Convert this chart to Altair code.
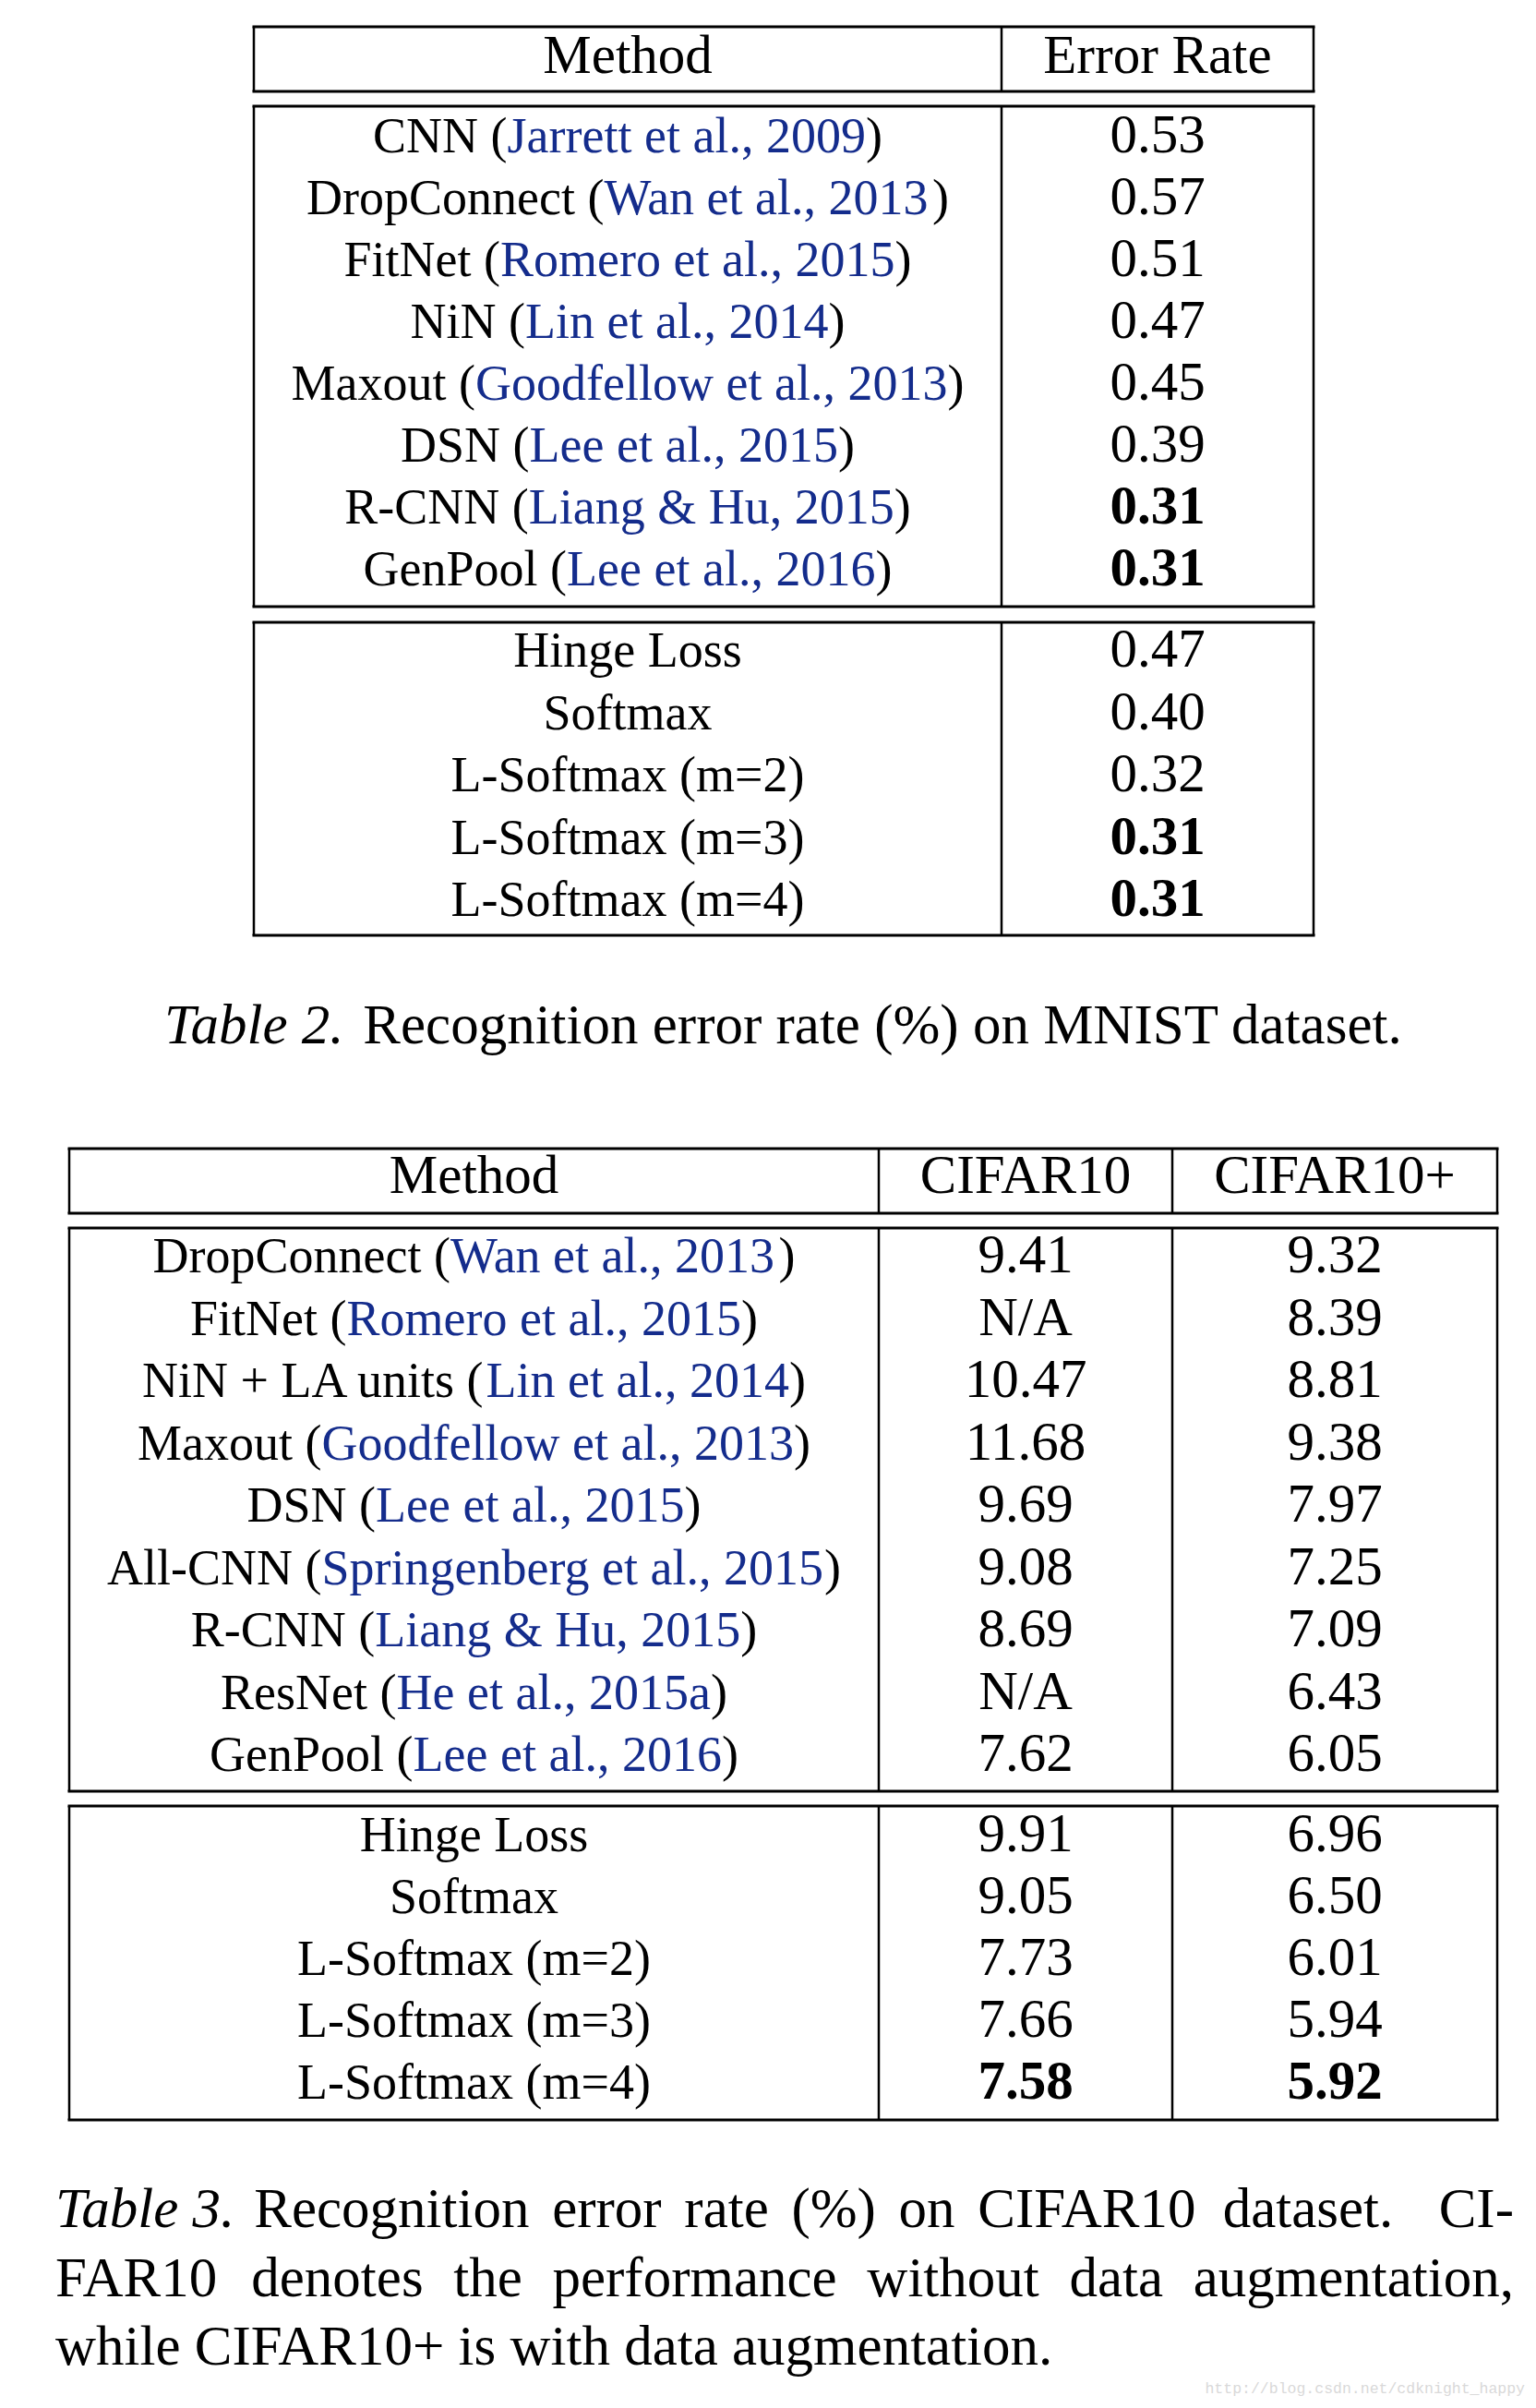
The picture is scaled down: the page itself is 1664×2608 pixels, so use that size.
import altair as alt
import pandas as pd

# ------------------------------------------------------------------ data
mnist_methods = ["CNN", "DropConnect", "FitNet", "NiN", "Maxout", "DSN", "R-CNN", "GenPool"]
mnist_cites = ["Jarrett et al., 2009", "Wan et al., 2013", "Romero et al., 2015", "Lin et al., 2014",
               "Goodfellow et al., 2013", "Lee et al., 2015", "Liang & Hu, 2015", "Lee et al., 2016"]
mnist_errors = ["0.53", "0.57", "0.51", "0.47", "0.45", "0.39", "0.31", "0.31"]
mnist_bold = [False, False, False, False, False, False, True, True]

mnist_ours = ["Hinge Loss", "Softmax", "L-Softmax (m=2)", "L-Softmax (m=3)", "L-Softmax (m=4)"]
mnist_ours_errors = ["0.47", "0.40", "0.32", "0.31", "0.31"]
mnist_ours_bold = [False, False, False, True, True]

cifar_methods = ["DropConnect", "FitNet", "NiN + LA units", "Maxout", "DSN", "All-CNN", "R-CNN", "ResNet", "GenPool"]
cifar_cites = ["Wan et al., 2013", "Romero et al., 2015", "Lin et al., 2014", "Goodfellow et al., 2013",
               "Lee et al., 2015", "Springenberg et al., 2015", "Liang & Hu, 2015", "He et al., 2015a", "Lee et al., 2016"]
cifar10 = ["9.41", "N/A", "10.47", "11.68", "9.69", "9.08", "8.69", "N/A", "7.62"]
cifar10_plus = ["9.32", "8.39", "8.81", "9.38", "7.97", "7.25", "7.09", "6.43", "6.05"]

cifar_ours = ["Hinge Loss", "Softmax", "L-Softmax (m=2)", "L-Softmax (m=3)", "L-Softmax (m=4)"]
cifar_ours_10 = ["9.91", "9.05", "7.73", "7.66", "7.58"]
cifar_ours_10p = ["6.96", "6.50", "6.01", "5.94", "5.92"]
cifar_ours_bold = [False, False, False, False, True]

headers_t2 = ["Method", "Error Rate"]
headers_t3 = ["Method", "CIFAR10", "CIFAR10+"]

caption2_label = "Table 2."
caption2_text = "Recognition error rate (%) on MNIST dataset."
caption3_label = "Table 3."
caption3_line1 = ["Recognition", "error", "rate", "(%)", "on", "CIFAR10", "dataset.", "CI-"]
caption3_line2 = ["FAR10", "denotes", "the", "performance", "without", "data", "augmentation,"]
caption3_line3 = "while CIFAR10+ is with data augmentation."
watermark = "http://blog.csdn.net/cdknight_happy"

# ------------------------------------------------------------------ layout / style
W, H = 1648, 2592
FONT = "Liberation Serif"
TFS = 54      # table text font size (method names / citations)
NFS = 59      # numbers and headers
CFS = 61      # caption font size
BLUE = "#142c8c"

ROMAN_W = {' ': 250, '(': 333, ')': 333, '%': 833, '+': 564, ',': 250, '-': 333, '.': 250, '/': 278,
           '=': 564, '&': 778,
           'A': 722, 'B': 667, 'C': 667, 'D': 722, 'E': 611, 'F': 556, 'G': 722, 'H': 722, 'I': 333,
           'J': 389, 'K': 722, 'L': 611, 'M': 889, 'N': 722, 'O': 722, 'P': 556, 'Q': 722, 'R': 667,
           'S': 556, 'T': 611, 'U': 722, 'V': 722, 'W': 944, 'X': 722, 'Y': 722, 'Z': 611,
           'a': 444, 'b': 500, 'c': 444, 'd': 500, 'e': 444, 'f': 333, 'g': 500, 'h': 500, 'i': 278,
           'j': 278, 'k': 500, 'l': 278, 'm': 778, 'n': 500, 'o': 500, 'p': 500, 'q': 500, 'r': 333,
           's': 389, 't': 278, 'u': 500, 'v': 500, 'w': 722, 'x': 500, 'y': 500, 'z': 444}
ITALIC_W = {'T': 556, 'a': 500, 'b': 500, 'l': 278, 'e': 444, ' ': 250, '.': 250}


def tw(s, fs, italic=False):
    tab = ITALIC_W if italic else ROMAN_W
    return sum(tab.get(c, 500) for c in s) / 1000.0 * fs


texts = []


def add(x, y, text, color="black", style="normal", align="center", size=TFS, font=FONT):
    texts.append(dict(x=x, y=y, text=text, color=color, style=style, align=align, size=size, font=font))


def add_cited(cx, y, method, cite):
    parts = [(method + " (", "black"), (cite, BLUE), (")", "black")]
    total = sum(tw(p, TFS) for p, _ in parts)
    x = cx - total / 2
    for p, c in parts:
        add(x, y, p, color=c, align="left")
        x += tw(p, TFS)


rules = []


def box(l, r, t, b, dividers):
    rules.append(dict(x=l - 1.5, x2=r + 1.5, y=t, y2=t, sw=3))
    rules.append(dict(x=l - 1.5, x2=r + 1.5, y=b, y2=b, sw=3))
    for xv in [l, r] + dividers:
        rules.append(dict(x=xv, x2=xv, y=t, y2=b, sw=2.5))


# ---------------- Table 2
T2L, T2R, T2D = 275, 1423, 1085
c2a, c2b = (T2L + T2D) / 2, (T2D + T2R) / 2
box(T2L, T2R, 29, 99, [T2D])
box(T2L, T2R, 115, 657, [T2D])
box(T2L, T2R, 674, 1013, [T2D])
add(c2a, 79, headers_t2[0], size=NFS)
add(c2b, 79, headers_t2[1], size=NFS)
for i, (m, c, e, b) in enumerate(zip(mnist_methods, mnist_cites, mnist_errors, mnist_bold)):
    y = 165 + 67 * i
    add_cited(c2a, y, m, c)
    add(c2b, y, e, style="bold" if b else "normal", size=NFS)
for i, (m, e, b) in enumerate(zip(mnist_ours, mnist_ours_errors, mnist_ours_bold)):
    y = 722 + 67.5 * i
    add(c2a, y, m)
    add(c2b, y, e, style="bold" if b else "normal", size=NFS)

# caption 2
cap2_total = tw(caption2_label + " ", CFS, italic=True) + tw(caption2_text, CFS)
x0 = (T2L + T2R) / 2 - cap2_total / 2
add(x0, 1130, caption2_label, style="italic", align="left", size=CFS)
add(x0 + tw(caption2_label + " ", CFS, italic=True), 1130, caption2_text, align="left", size=CFS)

# ---------------- Table 3
T3L, T3R, T3D1, T3D2 = 75, 1622, 952, 1270
c3a, c3b, c3c = (T3L + T3D1) / 2, (T3D1 + T3D2) / 2, (T3D2 + T3R) / 2
box(T3L, T3R, 1244, 1314, [T3D1, T3D2])
box(T3L, T3R, 1330, 1940, [T3D1, T3D2])
box(T3L, T3R, 1956, 2296, [T3D1, T3D2])
add(c3a, 1292, headers_t3[0], size=NFS)
add(c3b, 1292, headers_t3[1], size=NFS)
add(c3c, 1292, headers_t3[2], size=NFS)
for i, (m, c, a, b) in enumerate(zip(cifar_methods, cifar_cites, cifar10, cifar10_plus)):
    y = 1378 + 67.5 * i
    add_cited(c3a, y, m, c)
    add(c3b, y, a, size=NFS)
    add(c3c, y, b, size=NFS)
for i, (m, a, b, bold) in enumerate(zip(cifar_ours, cifar_ours_10, cifar_ours_10p, cifar_ours_bold)):
    y = 2005 + 67 * i
    st = "bold" if bold else "normal"
    add(c3a, y, m)
    add(c3b, y, a, style=st, size=NFS)
    add(c3c, y, b, style=st, size=NFS)

# caption 3 (justified lines)
CL, CR = 60, 1640
y1, y2, y3 = 2412, 2487, 2561
lab_w = tw(caption3_label, CFS, italic=True)
add(CL, y1, caption3_label, style="italic", align="left", size=CFS)
start = CL + lab_w + 0.25 * CFS
widths = [tw(w, CFS) for w in caption3_line1]
weights = [1, 1, 1, 1, 1, 1, 2]
unit = (CR - start - sum(widths)) / sum(weights)
x = start
for k, w in enumerate(caption3_line1):
    add(x, y1, w, align="left", size=CFS)
    if k < len(weights):
        x += widths[k] + unit * weights[k]

widths = [tw(w, CFS) for w in caption3_line2]
gap = (CR - CL - sum(widths)) / (len(caption3_line2) - 1)
x = CL
for k, w in enumerate(caption3_line2):
    add(x, y2, w, align="left", size=CFS)
    x += widths[k] + gap

add(CL, y3, caption3_line3, align="left", size=CFS)

# watermark
add(1652, 2592, watermark, color="#d9d9d9", align="right", size=16.5, font="Liberation Mono")

# ------------------------------------------------------------------ chart
xs = alt.Scale(domain=[8, 8 + W], range=[0, W], nice=False, zero=False)
ys = alt.Scale(domain=[8, 8 + H], range=[0, H], nice=False, zero=False)

rules_df = pd.DataFrame(rules)
rule_layer = alt.Chart(rules_df).mark_rule(color="black").encode(
    x=alt.X("x:Q", scale=xs, axis=None),
    x2="x2:Q",
    y=alt.Y("y:Q", scale=ys, axis=None),
    y2="y2:Q",
    strokeWidth=alt.StrokeWidth("sw:Q", scale=None, legend=None),
)

tdf = pd.DataFrame(texts)
layers = [rule_layer]
for (style, align, size, font), g in tdf.groupby(["style", "align", "size", "font"]):
    kw = dict(align=align, baseline="alphabetic", font=font, fontSize=float(size))
    if style == "bold":
        kw["fontWeight"] = "bold"
    if style == "italic":
        kw["fontStyle"] = "italic"
    layers.append(
        alt.Chart(g.reset_index(drop=True)).mark_text(**kw).encode(
            x=alt.X("x:Q", scale=xs, axis=None),
            y=alt.Y("y:Q", scale=ys, axis=None),
            text="text:N",
            color=alt.Color("color:N", scale=None, legend=None),
        )
    )

chart = alt.layer(*layers).properties(
    width=W, height=H, autosize="none", padding=0, background="white"
).configure_view(stroke=None)

chart.save("out.html", embed_options={"renderer": "svg", "actions": False})
